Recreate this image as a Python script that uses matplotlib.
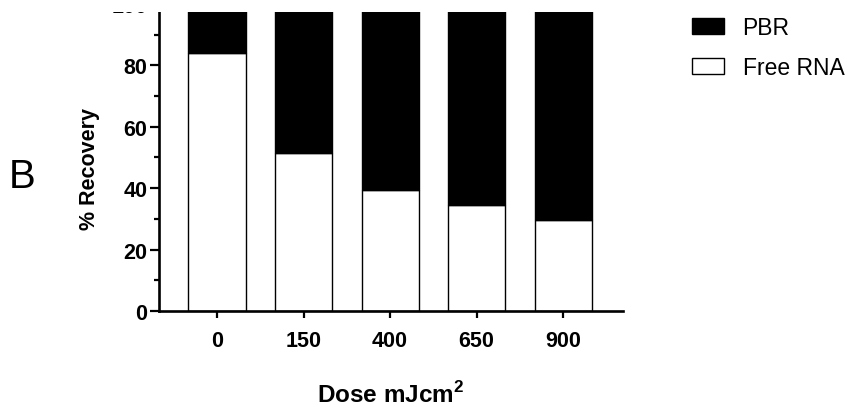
import matplotlib
matplotlib.use('Agg')
import matplotlib.pyplot as plt
from matplotlib.patches import Rectangle
import numpy as np

plt.rcParams['font.family'] = ['Liberation Sans', 'DejaVu Sans']
plt.rcParams['mathtext.fontset'] = 'custom'
plt.rcParams['mathtext.rm'] = 'Liberation Sans'
plt.rcParams['mathtext.bf'] = 'Liberation Sans:bold'

# data
doses = ['0', '150', '400', '650', '900']
free_rna = [84, 51.5, 39.5, 34.5, 29.5]
pbr = [100 - v for v in free_rna]

fig = plt.figure(figsize=(8.56, 4.10), dpi=100)
ax = fig.add_axes([0.1857, 0.239, 0.5421, 0.749])

x = np.arange(len(doses))
b1 = ax.bar(x, free_rna, width=0.66, color='white', edgecolor='black', linewidth=1.0, label='Free RNA')
b2 = ax.bar(x, pbr, width=0.66, bottom=free_rna, color='black', edgecolor='black', linewidth=1.0, label='PBR')

ax.set_xlim(-0.67, 4.69)
ax.set_ylim(0, 100)
ax.set_yticks([0, 20, 40, 60, 80, 100])
ax.set_yticks([10, 30, 50, 70, 90], minor=True)
ax.set_xticks(x)
ax.set_xticklabels(doses)

for s in ['top', 'right']:
    ax.spines[s].set_visible(False)
for s in ['left', 'bottom']:
    ax.spines[s].set_linewidth(1.9)

ax.tick_params(axis='both', which='major', length=6.5, width=1.6, labelsize=15.5)
ax.tick_params(axis='y', which='minor', length=3.8, width=1.6)
ax.tick_params(axis='y', which='major', pad=2)
ax.tick_params(axis='x', which='major', length=5, pad=9)
for lab in ax.get_xticklabels() + ax.get_yticklabels():
    lab.set_fontweight('bold')

ax.set_ylabel('% Recovery', fontsize=15.5, fontweight='bold')
ax.yaxis.set_label_coords(-0.127, 0.467)
ax.set_xlabel(r'Dose mJcm$^\mathbf{2}$', fontsize=17.5, fontweight='bold')
ax.xaxis.set_label_coords(0.5, -0.228)

fig.text(22 / 856, 1 - 177 / 410, 'B', fontsize=29, ha='center', va='center')

fig.legend([b2, b1], ['PBR', 'Free RNA'], loc='upper left', bbox_to_anchor=(0.7845, 1.009),
           frameon=False, fontsize=16.5, handlelength=1.4, handleheight=0.65,
           handletextpad=0.8, labelspacing=0.75)

# the original picture is cut off just below the top of the axis
fig.add_artist(Rectangle((0, 1 - 13 / 410), 1, 13 / 410, transform=fig.transFigure,
                         facecolor='white', edgecolor='none', zorder=10))

fig.savefig('out.png', dpi=100)
